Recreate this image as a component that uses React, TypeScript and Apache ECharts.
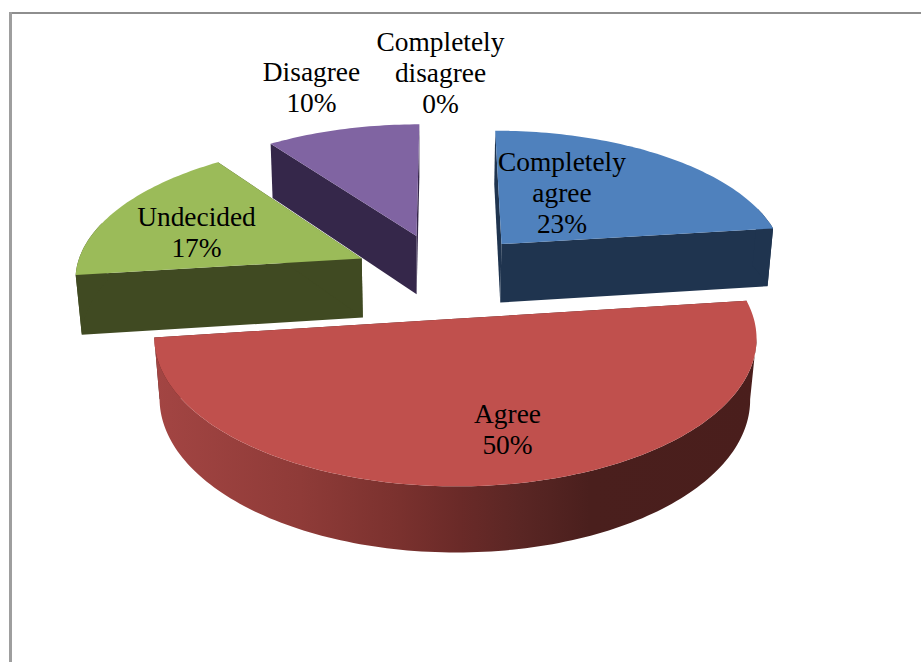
import React, { useEffect, useRef } from "react";
import * as echarts from "echarts";

const categories = ["Completely\nagree", "Agree", "Undecided", "Disagree", "Completely\ndisagree"];
const shares = [23, 50, 17, 10, 0];

const faceColors = ["#4F81BD", "#C0504D", "#9BBB59", "#8064A2", "#4BACC6"];
const wallColors = ["#1F344F", "#4A1E1C", "#404A22", "#35274A", "#1F3F4A"];
const layerOrder = [20, 40, 30, 10, 5];
const labelCenters = [
  [562, 193],
  [507.5, 429.5],
  [196.5, 232.5],
  [311.5, 87.5],
  [440.5, 73],
];
// shading of the long outer wall of the large slice, left to right in screen space
const wallRamp: [number, string][] = [
  [155, "#A34543"],
  [300, "#8F3B38"],
  [400, "#7A312E"],
  [460, "#6A2A28"],
  [520, "#5A2624"],
  [590, "#4A1F1D"],
  [760, "#4A1E1C"],
];

const explode = 0.315;
const topPlane = { cx: 443.4, cy: 275, ax: 287, by: 134.7, k: 0.1245 };
const bottomPlane = { cx: 443.1, cy: 334.7, ax: 282, by: 139.8, k: 0.12 };

type Plane = typeof topPlane;
const project = (p: Plane, X: number, Y: number): number[] => {
  const w = 1 + p.k * Y;
  return [p.cx + (p.ax * X) / w, p.cy - (p.by * Y) / w];
};

const rampStart = wallRamp[0][0];
const rampEnd = wallRamp[wallRamp.length - 1][0];
const rampFill = {
  type: "linear",
  global: true,
  x: rampStart,
  y: 0,
  x2: rampEnd,
  y2: 0,
  colorStops: wallRamp.map(([x, color]) => ({ offset: (x - rampStart) / (rampEnd - rampStart), color })),
};

const total = shares.reduce((a, b) => a + b, 0);

const renderSlice = (params: any, api: any) => {
  const i = params.dataIndex;
  const value = api.value(0) as number;
  const before = shares.slice(0, i).reduce((a, b) => a + b, 0);
  const a0 = (before / total) * Math.PI * 2;
  const a1 = ((before + value) / total) * Math.PI * 2;
  const mid = (a0 + a1) / 2;
  const ox = explode * Math.sin(mid);
  const oy = explode * Math.cos(mid);
  const z = layerOrder[i];
  const children: any[] = [];

  if (value > 0) {
    const steps = Math.max(4, Math.ceil((a1 - a0) / (Math.PI / 150)));
    const angles: number[] = [];
    for (let s = 0; s <= steps; s++) angles.push(a0 + ((a1 - a0) * s) / steps);
    const rim = (p: Plane, a: number) => project(p, ox + Math.sin(a), oy + Math.cos(a));
    const apexTop = project(topPlane, ox, oy);
    const apexBottom = project(bottomPlane, ox, oy);

    // radial walls
    [a0, a1].forEach((a) => {
      children.push({
        type: "polygon",
        z2: z,
        silent: true,
        shape: { points: [apexTop, rim(topPlane, a), rim(bottomPlane, a), apexBottom] },
        style: { fill: wallColors[i] },
      });
    });

    // outer wall: the front of the rim, between its left and right silhouette
    const front = angles.filter((a) => Math.cos(a) < 0.3);
    if (front.length > 1) {
      const xs = front.map((a) => rim(bottomPlane, a)[0]);
      const from = xs.indexOf(Math.max(...xs));
      const to = xs.indexOf(Math.min(...xs));
      const span = front.slice(Math.min(from, to), Math.max(from, to) + 1);
      if (span.length > 1) {
        children.push({
          type: "polygon",
          z2: z + 1,
          silent: true,
          shape: {
            points: [
              ...span.map((a) => rim(topPlane, a)),
              ...span
                .slice()
                .reverse()
                .map((a) => rim(bottomPlane, a)),
            ],
          },
          style: { fill: i === 1 ? rampFill : wallColors[i] },
        });
      }
    }

    // top face
    children.push({
      type: "polygon",
      z2: z + 2,
      silent: true,
      shape: { points: [apexTop, ...angles.map((a) => rim(topPlane, a))] },
      style: { fill: faceColors[i] },
    });
  }

  children.push({
    type: "text",
    z2: 100,
    silent: true,
    x: labelCenters[i][0],
    y: labelCenters[i][1],
    style: {
      text: `${categories[i]}\n${value}%`,
      fill: "#000000",
      fontFamily: '"Liberation Serif", serif',
      fontSize: 27.4,
      lineHeight: 31,
      align: "center",
      verticalAlign: "middle",
    },
  });

  return { type: "group", children };
};

export default function App() {
  const ref = useRef<HTMLDivElement>(null);
  useEffect(() => {
    if (!ref.current) return;
    const chart = echarts.init(ref.current, undefined, { renderer: "svg" });
    chart.setOption({
      animation: false,
      backgroundColor: "#ffffff",
      graphic: [
        { type: "rect", shape: { x: 9, y: 12, width: 912, height: 2 }, style: { fill: "#8E8E8E" }, silent: true },
        { type: "rect", shape: { x: 9, y: 12, width: 3, height: 650 }, style: { fill: "#9E9E9E" }, silent: true },
      ],
      series: [
        {
          type: "custom",
          coordinateSystem: "none",
          renderItem: renderSlice,
          data: shares,
          silent: true,
        },
      ],
    });
    return () => chart.dispose();
  }, []);
  return <div ref={ref} style={{ position: "absolute", left: 0, top: 0, width: 921, height: 662 }} />;
}
